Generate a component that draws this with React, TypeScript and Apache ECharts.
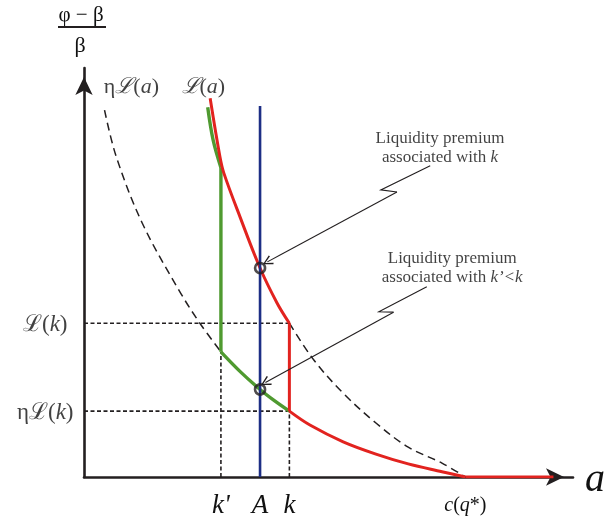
import React, { useEffect, useRef } from "react";
import * as echarts from "echarts";

const SERIF = '"Liberation Serif", "Times New Roman", "DejaVu Serif", serif';
const INK = "#231f20";
const TEXT = "#111111";
const RED = "#e2231f";
const GREEN = "#4f9a30";
const BLUE = "#1d2e85";

// key abscissae
const K_PRIME = 28;
const A_VAL = 36;
const K_VAL = 42;
const C_Q = 78;
const X_END = 96;
// key ordinates
const L_K = 37.6;
const ETA_L_K = 16.1;
const L_A = 51.1;
const ETA_L_A = 21.4;
const G_DROP_TOP = 75.6;
const ETA_L_KP = 30.6;
const BLUE_TOP = 90.7;

// x-axis tick labels
const xTickValues = [K_PRIME, A_VAL, K_VAL, C_Q];
const xTickLabels = ["k'", "A", "k", "c(q*)"];

// L(a), solid part (a < k)
const lSolidX = [25.8, 27.8, 28.6, 32, 36, 39.5, 42];
const lSolidY = [92.6, 78.3, 74.3, 63.3, 51.1, 42.5, 37.6];
// L(a), dashed part (k .. c(q*))
const lDashX = [42, 47, 53, 59.7, 66.3, 73.2, 78];
const lDashY = [37.6, 28.6, 20.5, 13.2, 7.3, 3.4, 0];
// ηL(a), dashed part
const etaDashX = [4.2, 6.6, 11.9, 19.4, 23.7, 28];
const etaDashY = [89.7, 78.3, 62.1, 45.7, 37.6, 30.6];
// green: upper part (a < k')
const gUpX = [25.3, 26.4, 28];
const gUpY = [90.4, 82.4, 75.6];
// green: lower part ηL(a) from k' to k
const gLowX = [28, 32, 36, 39, 42];
const gLowY = [30.6, 25.7, 21.4, 18.6, 16.1];
// red: lower part ηL(a) from k to c(q*)
const rLowX = [42, 46.2, 53, 59.7, 66.3, 73.2, 78];
const rLowY = [16.1, 12.7, 8.6, 5.6, 3.2, 1.3, 0];

// leader lines (zig-zag) and arrow segments
const leader1Zig = [[70.8, 76.1], [60.7, 70.2], [64.0, 69.7]];
const leader1Arrow = [[64.0, 69.7], [37.5, 52.6]];
const leader2Zig = [[70.1, 46.5], [60.3, 40.4], [63.3, 40.3]];
const leader2Arrow = [[63.3, 40.3], [37.1, 23.1]];

const note1 = ["Liquidity premium", "associated with ", "k"];
const note1Pos = [72.8, 80.7];
const note2 = ["Liquidity premium", "associated with ", "k’<k"];
const note2Pos = [75.3, 51.3];

const curveLabelPos = { etaL: [9.7, 95.8], L: [24.4, 95.8] };

const zip = (xs: number[], ys: number[]) => xs.map((x, i) => [x, ys[i]]);

const CHEVRON = "path://M5,0L10,9.2L8.8,10L5,2.6L1.2,10L0,9.2Z";

export default function App() {
  const ref = useRef<HTMLDivElement>(null);
  useEffect(() => {
    const chart = echarts.init(ref.current!, null, { renderer: "svg" });

    const line = (data: number[][], color: string, width: number, type: any, z: number, smooth: number | boolean = 0.35) => ({
      type: "line",
      data,
      symbol: "none",
      showSymbol: false,
      smooth,
      silent: true,
      z,
      lineStyle: { color, width, type, cap: "butt", join: "round" },
    });

    const txtRich = {
      n: { fontFamily: SERIF, fontSize: 23, color: TEXT },
      i: { fontFamily: SERIF, fontSize: 23, fontStyle: "italic", color: TEXT },
      s: { fontFamily: SERIF, fontSize: 23, color: TEXT },
    };

    const option: any = {
      animation: false,
      grid: { left: 84, right: 28, top: 68, bottom: 52 },
      xAxis: {
        type: "value",
        min: 0,
        max: 100,
        interval: 2,
        name: "a",
        nameLocation: "end",
        nameGap: 12,
        nameTextStyle: {
          fontFamily: SERIF,
          fontStyle: "italic",
          fontSize: 40,
          color: TEXT,
          align: "left",
          verticalAlign: "middle",
          padding: [0, 0, 12, 0],
        },
        splitLine: { show: false },
        axisTick: { show: false },
        axisLine: {
          lineStyle: { color: INK, width: 2.6 },
          symbol: ["none", "arrow"],
          symbolSize: [13, 18],
          symbolOffset: [0, -9],
        },
        axisLabel: {
          interval: 0,
          margin: 12,
          formatter: (v: number) => {
            const idx = xTickValues.indexOf(v);
            if (idx < 0) return "";
            const t = xTickLabels[idx];
            if (t === "c(q*)") return "{it|c}{rm|(}{it|q}{rm|*)}";
            return "{big|" + t + "}";
          },
          rich: {
            big: { fontFamily: SERIF, fontSize: 27, fontStyle: "italic", color: TEXT, lineHeight: 30 },
            it: { fontFamily: SERIF, fontSize: 20, fontStyle: "italic", color: TEXT, lineHeight: 30 },
            rm: { fontFamily: SERIF, fontSize: 20, color: TEXT, lineHeight: 30 },
          },
        },
      },
      yAxis: {
        type: "value",
        min: 0,
        max: 100,
        splitLine: { show: false },
        axisTick: { show: false },
        axisLabel: { show: false },
        axisLine: {
          show: true,
          lineStyle: { color: INK, width: 2.6 },
          symbol: ["none", "arrow"],
          symbolSize: [13, 18],
          symbolOffset: [0, -9],
        },
      },
      graphic: [
        {
          type: "group",
          children: [
            {
              type: "text",
              x: 81,
              y: 14,
              style: { text: "φ − β", font: `21px ${SERIF}`, fill: TEXT, align: "center", verticalAlign: "middle" },
            },
            { type: "line", shape: { x1: 58, y1: 27, x2: 106, y2: 27 }, style: { stroke: INK, lineWidth: 1.8 } },
            {
              type: "text",
              x: 80,
              y: 44,
              style: { text: "β", font: `22px ${SERIF}`, fill: TEXT, align: "center", verticalAlign: "middle" },
            },
          ],
        },
      ],
      series: [
        // dashed guides
        line([[0, L_K], [K_VAL, L_K]], INK, 1.6, [4, 2.5], 1, false),
        line([[0, ETA_L_K], [K_VAL, ETA_L_K]], INK, 1.6, [4, 2.5], 1, false),
        line([[K_PRIME, 0], [K_PRIME, ETA_L_KP]], INK, 1.6, [4, 2.5], 1, false),
        line([[K_VAL, 0], [K_VAL, ETA_L_K]], INK, 1.6, [4, 2.5], 1, false),
        // dashed curves
        line(zip(etaDashX, etaDashY), INK, 1.5, [8, 5], 1),
        line(zip(lDashX, lDashY), INK, 1.5, [8, 5], 1),
        // green
        line(zip(gUpX, gUpY), GREEN, 3.4, "solid", 3),
        line([[K_PRIME, G_DROP_TOP], [K_PRIME, ETA_L_KP]], GREEN, 3.4, "solid", 3, false),
        line(zip(gLowX, gLowY), GREEN, 3.4, "solid", 3),
        // red
        line(zip(lSolidX, lSolidY), RED, 3, "solid", 4),
        line([[K_VAL, L_K], [K_VAL, ETA_L_K]], RED, 3, "solid", 4, false),
        line(zip(rLowX, rLowY), RED, 3, "solid", 4),
        line([[C_Q, 0], [X_END, 0]], RED, 3, "solid", 4, false),
        // blue
        line([[A_VAL, 0], [A_VAL, BLUE_TOP]], BLUE, 2.6, "solid", 5, false),
        // circles
        {
          type: "scatter",
          z: 6,
          silent: true,
          symbol: "circle",
          symbolSize: 10,
          itemStyle: { color: "rgba(0,0,0,0)", borderColor: INK, borderWidth: 2.6 },
          data: [[A_VAL, L_A], [A_VAL, ETA_L_A]],
        },
        // leader zig-zags
        {
          type: "lines",
          coordinateSystem: "cartesian2d",
          polyline: true,
          silent: true,
          z: 6,
          lineStyle: { color: INK, width: 1.1, opacity: 1 },
          data: [{ coords: leader1Zig }, { coords: leader2Zig }],
        },
        {
          type: "lines",
          coordinateSystem: "cartesian2d",
          silent: true,
          z: 6,
          symbol: ["none", CHEVRON],
          symbolSize: [8, 10],
          lineStyle: { color: INK, width: 1.1, opacity: 1, curveness: 0 },
          data: [{ coords: leader1Arrow }, { coords: leader2Arrow }],
        },
        // text annotations
        {
          type: "scatter",
          z: 7,
          silent: true,
          symbolSize: 1,
          itemStyle: { color: "rgba(0,0,0,0)" },
          label: {
            show: true,
            position: "inside",
            align: "center",
            verticalAlign: "middle",
            color: TEXT,
            fontFamily: SERIF,
            fontSize: 17,
            lineHeight: 18.5,
            rich: {
              r: { fontFamily: SERIF, fontSize: 17, lineHeight: 18.5, color: TEXT },
              i: { fontFamily: SERIF, fontSize: 17, lineHeight: 18.5, color: TEXT, fontStyle: "italic" },
            },
            formatter: (p: any) => {
              const t = p.dataIndex === 0 ? note1 : note2;
              return `{r|${t[0]}}\n{r|${t[1]}}{i|${t[2]}}`;
            },
          },
          data: [note1Pos, note2Pos],
        },
        // curve labels
        {
          type: "scatter",
          z: 7,
          silent: true,
          symbolSize: 1,
          itemStyle: { color: "rgba(0,0,0,0)" },
          label: {
            show: true,
            position: "inside",
            rich: {
              n: { fontFamily: SERIF, fontSize: 22, color: TEXT },
              s: { fontFamily: SERIF, fontSize: 22, color: TEXT, fontStyle: "italic" },
              i: { fontFamily: SERIF, fontSize: 22, color: TEXT, fontStyle: "italic" },
            },
            formatter: (p: any) =>
              p.dataIndex === 0 ? "{n|η}{s|ℒ}{n|(}{i|a}{n|)}" : "{s|ℒ}{n|(}{i|a}{n|)}",
          },
          data: [curveLabelPos.etaL, curveLabelPos.L],
        },
        // y-axis level labels
        {
          type: "scatter",
          z: 7,
          silent: true,
          symbolSize: 1,
          itemStyle: { color: "rgba(0,0,0,0)" },
          label: {
            show: true,
            position: "left",
            rich: txtRich,
            formatter: (p: any) =>
              p.dataIndex === 0 ? "{s|ℒ}{n|(}{i|k}{n|)}" : "{n|η}{s|ℒ}{n|(}{i|k}{n|)}",
          },
          data: [
            { value: [0, L_K], label: { distance: 16 } },
            { value: [0, ETA_L_K], label: { distance: 10 } },
          ],
        },
      ],
    };
    chart.setOption(option);
    return () => chart.dispose();
  }, []);
  return <div ref={ref} style={{ position: "fixed", left: 0, top: 0, width: 608, height: 529 }} />;
}
